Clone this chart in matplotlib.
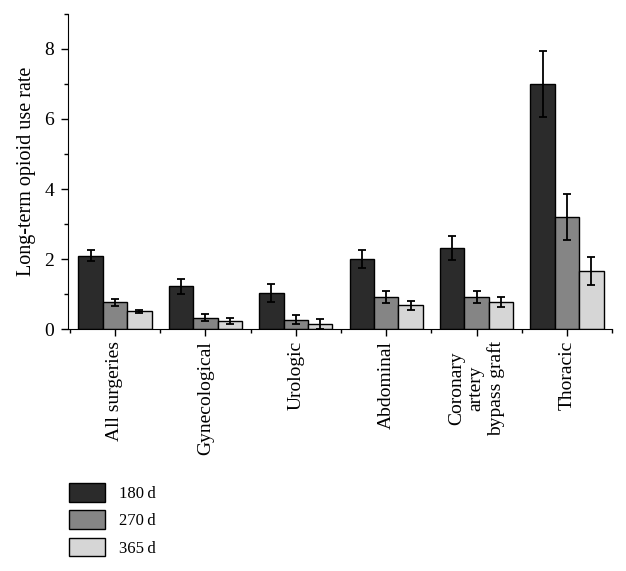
import numpy as np
import matplotlib
matplotlib.use("Agg")
import matplotlib.pyplot as plt
from matplotlib.ticker import MultipleLocator, FixedLocator

plt.rcParams['font.family'] = ['Liberation Serif', 'DejaVu Serif']

categories = ["All surgeries", "Gynecological", "Urologic", "Abdominal",
              "Coronary\nartery\nbypass graft", "Thoracic"]
series_names = ["180\u2009d", "270\u2009d", "365\u2009d"]
rate_180 = [2.1, 1.22, 1.02, 2.0, 2.31, 7.0]
err_180 = [0.16, 0.21, 0.26, 0.25, 0.35, 0.94]
rate_270 = [0.76, 0.32, 0.27, 0.91, 0.91, 3.2]
err_270 = [0.1, 0.1, 0.12, 0.17, 0.17, 0.65]
rate_365 = [0.51, 0.22, 0.15, 0.68, 0.78, 1.66]
err_365 = [0.04, 0.09, 0.15, 0.13, 0.14, 0.4]
colors = ["#2b2b2b", "#858585", "#d6d6d6"]

fig = plt.figure(figsize=(6.26, 5.71), dpi=100)
ax = fig.add_axes([0.1086, 0.4238, 0.8694, 0.5517])

x = np.arange(len(categories))
w = 0.27
handles = []
for i, (vals, errs) in enumerate([(rate_180, err_180), (rate_270, err_270), (rate_365, err_365)]):
    b = ax.bar(x + (i - 1) * w, vals, w, color=colors[i], edgecolor="black", linewidth=1.0,
               yerr=errs, capsize=2.8, error_kw=dict(ecolor="black", elinewidth=1.3, capthick=1.3),
               label=series_names[i], zorder=2)
    handles.append(b)

ax.set_xlim(-0.52, 5.5)
ax.set_ylim(0, 9)
ax.spines["top"].set_visible(False)
ax.spines["right"].set_visible(False)
ax.set_xticks(x)
ax.set_xticklabels(categories, rotation=90, fontsize=14, multialignment="center")
ax.xaxis.set_minor_locator(FixedLocator(np.arange(-0.5, 6, 1.0)))
ax.set_yticks([0, 2, 4, 6, 8])
ax.yaxis.set_minor_locator(MultipleLocator(1))
ax.tick_params(axis="both", which="major", direction="out", length=5, width=1, labelsize=14)
ax.tick_params(axis="y", which="major", pad=5)
ax.tick_params(axis="both", which="minor", direction="out", length=3, width=1)
ax.set_ylabel("Long-term opioid use rate", fontsize=14.5, labelpad=6)

fig.legend(handles=handles, labels=series_names, loc="upper left",
           bbox_to_anchor=(0.0855, 0.18), frameon=False, fontsize=12,
           handlelength=2.2, handleheight=1.35, labelspacing=0.5, handletextpad=0.8)

fig.savefig("out.png", dpi=100)
